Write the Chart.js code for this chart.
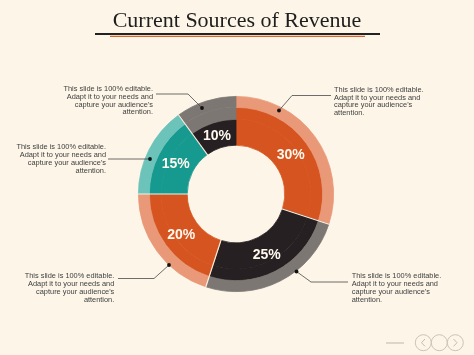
<!DOCTYPE html>
<html><head><meta charset="utf-8">
<script src="https://cdn.jsdelivr.net/npm/chart.js@4.4.1/dist/chart.umd.min.js"></script>
<style>
html,body{margin:0;padding:0;background:#FCF5E8;}
#wrap{position:relative;width:474px;height:355px;overflow:hidden;background:#FCF5E8;}
canvas,svg{position:absolute;left:0;top:0;}
</style></head><body>
<div id="wrap"><canvas id="c" width="474" height="355"></canvas>
<svg id="ov" width="474" height="355" xmlns="http://www.w3.org/2000/svg"></svg></div>
<script>
// ---- data ----
const segments = ['Source 1', 'Source 2', 'Source 3', 'Source 4', 'Source 5'];
const shares = [30, 25, 20, 15, 10];
const valueLabels = ['30%', '25%', '20%', '15%', '10%'];
const titleText = 'Current Sources of Revenue';
const calloutLines = ['This slide is 100% editable.', 'Adapt it to your needs and', "capture your audience's", 'attention.'];

// ---- styles ----
const bandColors   = ['#E99878', '#7D7773', '#E99878', '#6CC3BA', '#7D7773'];
const middleColors = ['#D6541F', '#262022', '#D6541F', '#16998F', '#7D7773'];
const innerColors  = ['#D6541F', '#262022', '#D6541F', '#16998F', '#262022'];
const darkIsMiddle = [true, true, true, true, false];
const BG = '#FCF5E8';

const valueLabelPlugin = {
  id: 'valueLabels',
  afterDatasetsDraw(chart) {
    const ctx = chart.ctx;
    const outer = chart.getDatasetMeta(0).data;
    const mid = chart.getDatasetMeta(1).data;
    const inner = chart.getDatasetMeta(2).data;
    ctx.save();
    // separators between segments
    ctx.strokeStyle = '#FBF1E2';
    ctx.lineWidth = 1.1;
    inner.forEach((arc, i) => {
      if (i === 0) return;
      const p = arc.getProps(['x', 'y', 'startAngle', 'innerRadius'], true);
      const ro = outer[i].getProps(['outerRadius'], true).outerRadius;
      const a = p.startAngle;
      ctx.beginPath();
      ctx.moveTo(p.x + Math.cos(a) * (p.innerRadius - 1), p.y + Math.sin(a) * (p.innerRadius - 1));
      ctx.lineTo(p.x + Math.cos(a) * (ro + 1), p.y + Math.sin(a) * (ro + 1));
      ctx.stroke();
    });
    // value labels
    ctx.fillStyle = '#FFF8EE';
    ctx.font = 'bold 14px "Liberation Sans", Arial, sans-serif';
    ctx.textAlign = 'center';
    ctx.textBaseline = 'middle';
    inner.forEach((arc, i) => {
      const p = arc.getProps(['x', 'y', 'startAngle', 'endAngle', 'innerRadius', 'outerRadius'], true);
      const outerDark = darkIsMiddle[i] ? mid[i].getProps(['outerRadius'], true).outerRadius : p.outerRadius;
      const r = (p.innerRadius + outerDark) / 2;
      const a = (p.startAngle + p.endAngle) / 2;
      ctx.fillText(valueLabels[i], p.x + Math.cos(a) * r, p.y + Math.sin(a) * r + 1);
    });
    ctx.restore();
  }
};

new Chart(document.getElementById('c'), {
  type: 'doughnut',
  data: {
    labels: segments,
    datasets: [
      { data: shares, backgroundColor: bandColors, borderColor: bandColors, weight: 11 },
      { data: shares, backgroundColor: middleColors, borderColor: middleColors, weight: 12 },
      { data: shares, backgroundColor: innerColors, borderColor: innerColors, weight: 26 }
    ]
  },
  options: {
    responsive: false,
    animation: false,
    devicePixelRatio: 1,
    cutout: '50%',
    borderWidth: 0.8,
    layout: { padding: { left: 138, right: 140, top: 96, bottom: 63 } },
    plugins: { legend: { display: false }, tooltip: { enabled: false }, title: { display: false } }
  },
  plugins: [valueLabelPlugin]
});

// ---- overlay: title, callouts, leaders, nav ----
const NS = 'http://www.w3.org/2000/svg';
const svg = document.getElementById('ov');
function el(tag, attrs, text) {
  const e = document.createElementNS(NS, tag);
  for (const k in attrs) e.setAttribute(k, attrs[k]);
  if (text !== undefined) e.textContent = text;
  svg.appendChild(e);
  return e;
}
el('text', { x: 237, y: 26.7, 'text-anchor': 'middle', 'font-family': '"Liberation Serif", serif', 'font-size': 22, fill: '#1E1E1E' }, titleText);
el('line', { x1: 95, y1: 34, x2: 380, y2: 34, stroke: '#222', 'stroke-width': 2 });
el('line', { x1: 110, y1: 36.4, x2: 365, y2: 36.4, stroke: '#D9622B', 'stroke-width': 1.3 });

const callouts = [
  { x: 153,   y: 91,    anchor: 'end',   path: [[156, 94], [188, 94], [202, 108]] },
  { x: 106,   y: 149.4, anchor: 'end',   path: [[108, 159], [150, 159]] },
  { x: 334,   y: 91.7,  anchor: 'start', path: [[331, 95.5], [292, 95.5], [279, 110.5]] },
  { x: 114.3, y: 278.4, anchor: 'end',   path: [[118, 278.5], [154, 278.5], [169, 265]] },
  { x: 351.7, y: 278.4, anchor: 'start', path: [[348, 282], [311, 282], [296.5, 271.5]] }
];
callouts.forEach(c => {
  const t = el('text', { 'text-anchor': c.anchor, 'font-family': '"Liberation Sans", Arial, sans-serif', 'font-size': 7.4, fill: '#3E3E3E' });
  calloutLines.forEach((ln, i) => {
    const ts = document.createElementNS(NS, 'tspan');
    ts.setAttribute('x', c.x);
    ts.setAttribute('y', c.y + i * 7.8);
    ts.textContent = ln;
    t.appendChild(ts);
  });
  el('polyline', { points: c.path.map(p => p.join(',')).join(' '), fill: 'none', stroke: '#4A4A4A', 'stroke-width': 0.8 });
  const d = c.path[c.path.length - 1];
  el('circle', { cx: d[0], cy: d[1], r: 1.9, fill: '#111' });
});

el('line', { x1: 386, y1: 343, x2: 404, y2: 343, stroke: '#BFB7A8', 'stroke-width': 1 });
[423.3, 439.3, 455.3].forEach(cx => el('circle', { cx, cy: 342.7, r: 8, fill: 'none', stroke: '#CBC3B4', 'stroke-width': 1 }));
el('polyline', { points: '425,339 421.5,342.7 425,346.4', fill: 'none', stroke: '#C3BBAC', 'stroke-width': 1 });
el('polyline', { points: '453.5,339 457,342.7 453.5,346.4', fill: 'none', stroke: '#C3BBAC', 'stroke-width': 1 });
</script>
</body></html>
